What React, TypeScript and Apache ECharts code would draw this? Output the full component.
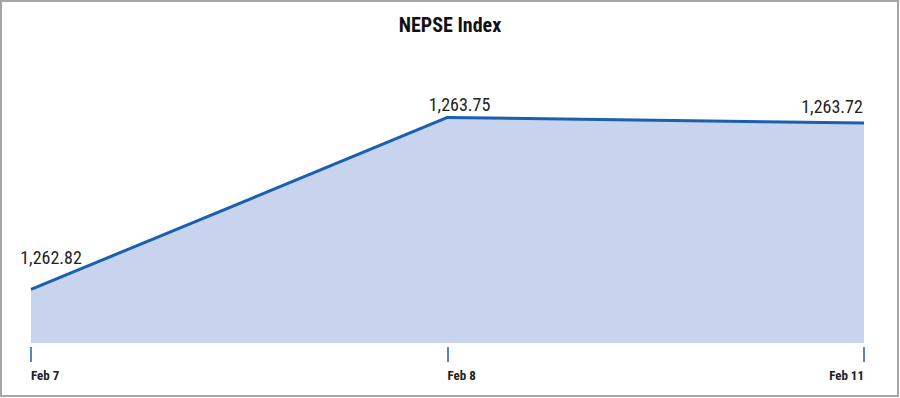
import React, { useEffect, useRef } from "react";
import * as echarts from "echarts";

const categories = ["Feb 7", "Feb 8", "Feb 11"];
const values = [1262.82, 1263.75, 1263.72];
const valueLabels = ["1,262.82", "1,263.75", "1,263.72"];

const FONT = '"Roboto Condensed", Roboto, sans-serif';

export default function App() {
  const ref = useRef<HTMLDivElement>(null);
  useEffect(() => {
    document.body.style.margin = "0";
    const chart = echarts.init(ref.current!, null, { renderer: "svg" });
    const labelCfg = [
      { distance: 22, offset: [20, 0] },
      { distance: 3, offset: [12, 0] },
      { distance: 7, offset: [-32, 0] },
    ];
    chart.setOption({
      animation: false,
      backgroundColor: "#ffffff",
      title: {
        text: "NEPSE Index",
        left: "center",
        top: 10,
        textStyle: { fontFamily: FONT, fontSize: 20, fontWeight: "bold", color: "#111" },
      },
      graphic: [
        {
          type: "rect",
          shape: { x: 1, y: 1, width: 897, height: 395 },
          style: { fill: "none", stroke: "#a6a6a6", lineWidth: 2 },
          z: 100,
        },
      ],
      grid: { left: 31, right: 36, top: 99, bottom: 55 },
      xAxis: {
        type: "category",
        data: categories,
        boundaryGap: false,
        offset: 4,
        axisLine: { show: false },
        axisTick: { show: true, length: 15, lineStyle: { color: "#1a5fb0", width: 1.5 } },
        axisLabel: {
          margin: 22,
          align: "left",
          alignMaxLabel: "right",
          fontFamily: FONT,
          fontSize: 13,
          fontWeight: "bold",
          color: "#222",
        },
      },
      yAxis: {
        type: "value",
        min: 1262.53,
        max: 1263.85,
        show: false,
        splitLine: { show: false },
      },
      series: [
        {
          type: "line",
          data: values.map((v, i) => ({
            value: v,
            label: {
              distance: labelCfg[i].distance,
              offset: labelCfg[i].offset,
            },
          })),
          label: {
            show: true,
            position: "top",
            formatter: (p: any) => valueLabels[p.dataIndex],
            fontFamily: FONT,
            fontSize: 18,
            color: "#222",
          },
          symbol: "circle",
          symbolSize: 2,
          showSymbol: true,
          itemStyle: { color: "rgba(0,0,0,0)" },
          lineStyle: { color: "#1a5fb0", width: 3 },
          areaStyle: { color: "#c8d3ed", opacity: 1 },
        },
      ],
    });
    return () => chart.dispose();
  }, []);
  return <div ref={ref} style={{ width: 900, height: 398 }} />;
}
